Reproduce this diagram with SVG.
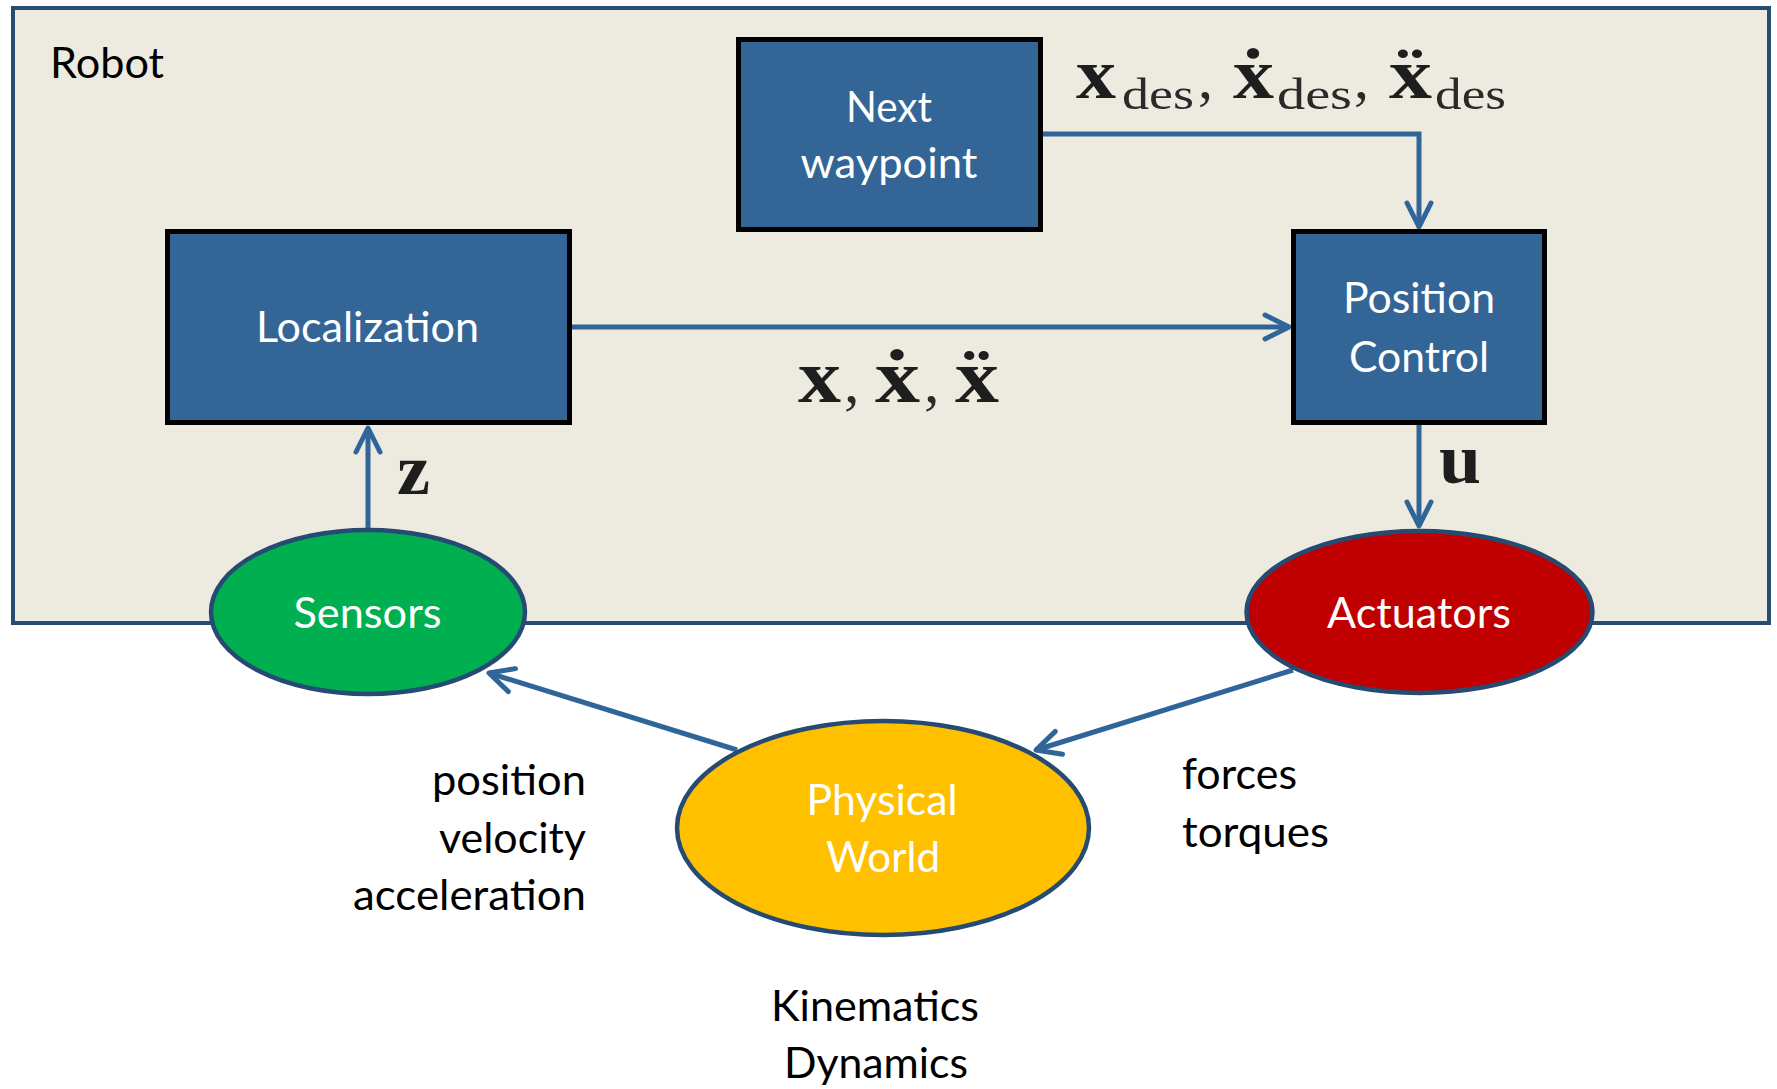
<svg xmlns="http://www.w3.org/2000/svg" width="1777" height="1089" viewBox="0 0 1777 1089">
<style>
.lbl{font-family:Lato,"Open Sans",sans-serif;font-size:43px;fill:#000}
.wl{font-family:Lato,"Open Sans",sans-serif;font-size:43px;fill:#fff;text-anchor:middle}
.box{fill:#336596;stroke:#000;stroke-width:5}
.ell{stroke:#254B73;stroke-width:4.5}
.con{fill:none;stroke:#30659A;stroke-width:5}
.mb{font-family:"Liberation Serif","DejaVu Serif",serif;font-weight:bold;fill:#1e1e1e}
.mr{font-family:"Liberation Serif","DejaVu Serif",serif;fill:#2a2a2a}
</style>
<defs>
<marker id="ah" markerUnits="userSpaceOnUse" viewBox="-30 -16 34 32" refX="0" refY="0" markerWidth="34" markerHeight="32" orient="auto">
<path d="M-24,-12 L0,0 L-24,12" fill="none" stroke="#30659A" stroke-width="5" stroke-linecap="round" stroke-linejoin="round"/>
</marker>
</defs>
<rect width="1777" height="1089" fill="#fff"/>
<g id="robot">
<rect x="13" y="8" width="1756" height="615" fill="#EDEBE0" stroke="#264C74" stroke-width="4"/>
<text class="lbl" x="50" y="78" textLength="114" lengthAdjust="spacingAndGlyphs">Robot</text>
</g>
<g id="connectors">
<path class="con" d="M368,528 L368,428" marker-end="url(#ah)"/>
<path class="con" d="M572,327 L1289,327" marker-end="url(#ah)"/>
<path class="con" d="M1043,134 L1419,134 L1419,227" marker-end="url(#ah)"/>
<path class="con" d="M1419,425 L1419,526" marker-end="url(#ah)"/>
<path class="con" d="M737,750 L489,673" marker-end="url(#ah)"/>
<path class="con" d="M1293,670 L1036,750" marker-end="url(#ah)"/>
</g>
<g id="localization">
<rect class="box" x="167.5" y="231.5" width="402" height="191"/>
<text class="wl" x="367.5" y="342" textLength="223" lengthAdjust="spacingAndGlyphs">Localization</text>
</g>
<g id="next-waypoint">
<rect class="box" x="738.5" y="39.5" width="302" height="190"/>
<text class="wl" x="889" y="122" textLength="86" lengthAdjust="spacingAndGlyphs">Next</text>
<text class="wl" x="889" y="178" textLength="177" lengthAdjust="spacingAndGlyphs">waypoint</text>
</g>
<g id="position-control">
<rect class="box" x="1293.5" y="231.5" width="251" height="191"/>
<text class="wl" x="1419" y="313" textLength="152" lengthAdjust="spacingAndGlyphs">Position</text>
<text class="wl" x="1419" y="372" textLength="140" lengthAdjust="spacingAndGlyphs">Control</text>
</g>
<g id="sensors">
<ellipse class="ell" cx="368" cy="612" rx="157" ry="82" fill="#00B050"/>
<text class="wl" x="367.5" y="628" textLength="148" lengthAdjust="spacingAndGlyphs">Sensors</text>
</g>
<g id="actuators">
<ellipse class="ell" cx="1419.5" cy="612" rx="173" ry="81" fill="#C00000"/>
<text class="wl" x="1419" y="628" textLength="184" lengthAdjust="spacingAndGlyphs">Actuators</text>
</g>
<g id="physical-world">
<ellipse class="ell" cx="883" cy="828" rx="206" ry="107" fill="#FFC000"/>
<text class="wl" x="882" y="815" textLength="151" lengthAdjust="spacingAndGlyphs">Physical</text>
<text class="wl" x="883" y="872" textLength="114" lengthAdjust="spacingAndGlyphs">World</text>
</g>
<g id="labels">
<text class="lbl" x="586" y="795" text-anchor="end" textLength="154" lengthAdjust="spacingAndGlyphs">position</text>
<text class="lbl" x="586" y="853" text-anchor="end" textLength="147" lengthAdjust="spacingAndGlyphs">velocity</text>
<text class="lbl" x="586" y="910" text-anchor="end" textLength="233" lengthAdjust="spacingAndGlyphs">acceleration</text>
<text class="lbl" x="1182" y="789" textLength="115" lengthAdjust="spacingAndGlyphs">forces</text>
<text class="lbl" x="1182" y="847" textLength="147" lengthAdjust="spacingAndGlyphs">torques</text>
<text class="lbl" x="875" y="1021" text-anchor="middle" textLength="208" lengthAdjust="spacingAndGlyphs">Kinematics</text>
<text class="lbl" x="876" y="1078" text-anchor="middle" textLength="184" lengthAdjust="spacingAndGlyphs">Dynamics</text>
</g>
<g id="math-labels">
<text font-size="72"><tspan class="mb" x="1076" y="98" textLength="40" lengthAdjust="spacingAndGlyphs">x</tspan><tspan class="mr" x="1122" y="109" font-size="44" textLength="72" lengthAdjust="spacingAndGlyphs">des</tspan><tspan class="mr" x="1198" y="98" font-size="60">,</tspan><tspan class="mb" x="1233" y="98" textLength="41" lengthAdjust="spacingAndGlyphs">ẋ</tspan><tspan class="mr" x="1277" y="109" font-size="44" textLength="75" lengthAdjust="spacingAndGlyphs">des</tspan><tspan class="mr" x="1354" y="98" font-size="60">,</tspan><tspan class="mb" x="1389" y="98" textLength="43" lengthAdjust="spacingAndGlyphs">ẍ</tspan><tspan class="mr" x="1435" y="109" font-size="44" textLength="71" lengthAdjust="spacingAndGlyphs">des</tspan></text>
<text font-size="76"><tspan class="mb" x="798" y="402" textLength="43" lengthAdjust="spacingAndGlyphs">x</tspan><tspan class="mr" x="844" y="402" font-size="62">,</tspan><tspan class="mb" x="875" y="402" textLength="45" lengthAdjust="spacingAndGlyphs">ẋ</tspan><tspan class="mr" x="924" y="402" font-size="62">,</tspan><tspan class="mb" x="955" y="402" textLength="44" lengthAdjust="spacingAndGlyphs">ẍ</tspan></text>
<text class="mb" x="397" y="494" font-size="72" textLength="33" lengthAdjust="spacingAndGlyphs">z</text>
<text class="mb" x="1439" y="483" font-size="72" textLength="42" lengthAdjust="spacingAndGlyphs">u</text>
</g>
</svg>
